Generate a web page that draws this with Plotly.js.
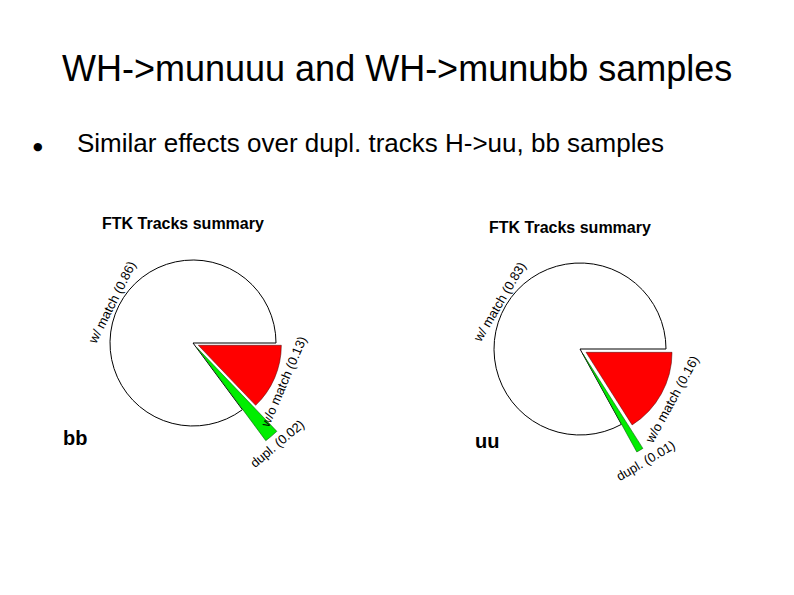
<!DOCTYPE html>
<html><head><meta charset="utf-8">
<script src="https://cdn.plot.ly/plotly-3.0.1.min.js"></script>
<style>html,body{margin:0;padding:0;background:#fff}</style>
</head><body>
<div id="chart" style="width:794px;height:595px"></div>
<script>
// ---- data (slice order: clockwise from 3 o'clock) ----
var sliceLabels = ["w/o match", "dupl.", "w/ match"];
var sliceColors = ["#ff0000", "#00ee00", "#ffffff"];
var bbValues = [0.13, 0.02, 0.86];
var uuValues = [0.16, 0.01, 0.83];
var sampleNames = ["bb", "uu"];
var slideTitle = "WH->munuuu and WH->munubb samples";
var bulletText = "Similar effects over dupl. tracks H->uu, bb samples";
var pieTitle = "FTK Tracks summary";

// ---- geometry (pixels) ----
var W = 794, H = 595;
var FONT = "Liberation Sans, Arial, Helvetica, sans-serif";
var pies = [
  {vals: bbValues, name: sampleNames[0], cx: 193, cy: 343, r: 83, rg: 116, pull: 0.07, gpull: 0.05,
   titleX: 183, titleY: 223, nameX: 75, nameY: 438, lr: [99, 131, 91]},
  {vals: uuValues, name: sampleNames[1], cx: 580, cy: 349, r: 86, rg: 112, pull: 0.08, gpull: 0.05,
   titleX: 570, titleY: 227, nameX: 487, nameY: 441, lr: [105, 130, 93]}
];

function domainFor(cx, cy, r, pull) {
  var half = r * (1 + pull);
  return {x: [(cx - half) / W, (cx + half) / W], y: [1 - (cy + half) / H, 1 - (cy - half) / H]};
}
function ann(px, py, text, font, extra) {
  var a = {xref: "paper", yref: "paper", x: px / W, y: 1 - py / H, xanchor: "center", yanchor: "middle",
           showarrow: false, text: text, font: font};
  for (var k in (extra || {})) a[k] = extra[k];
  return a;
}

var traces = [], annotations = [];
pies.forEach(function (p) {
  // main pie: red + white (green hidden here)
  traces.push({
    type: "pie", values: p.vals, labels: sliceLabels, sort: false,
    direction: "clockwise", rotation: 90, textinfo: "none", hoverinfo: "none",
    pull: [p.pull, 0, 0],
    marker: {colors: [sliceColors[0], "rgba(0,0,0,0)", sliceColors[2]],
             line: {color: ["#400", "rgba(0,0,0,0)", "#000"], width: [0.5, 0, 1]}},
    domain: domainFor(p.cx, p.cy, p.r, p.pull), showlegend: false
  });
  // green slice drawn with a longer radius
  traces.push({
    type: "pie", values: p.vals, labels: sliceLabels, sort: false,
    direction: "clockwise", rotation: 90, textinfo: "none", hoverinfo: "none",
    pull: [0, p.gpull, 0],
    marker: {colors: ["rgba(0,0,0,0)", sliceColors[1], "rgba(0,0,0,0)"],
             line: {color: ["rgba(0,0,0,0)", "#0a5a0a", "rgba(0,0,0,0)"], width: [0, 0.6, 0]}},
    domain: domainFor(p.cx, p.cy, p.rg, p.gpull), showlegend: false
  });
  // slice labels, placed from the slice mid-angles
  var tot = p.vals.reduce(function (a, b) { return a + b; }, 0);
  var start = 0;
  p.vals.forEach(function (v, i) {
    var m = -(start + 180 * v / tot);  // math degrees (ccw from east), slices run clockwise
    start += 360 * v / tot;
    if (m < -180) m += 360;
    var rad = m * Math.PI / 180;
    var px = p.cx + p.lr[i] * Math.cos(rad), py = p.cy - p.lr[i] * Math.sin(rad);
    var dir = (m > 90 || m < -90) ? m - 90 : m + 90; // text direction, reading upward
    annotations.push(ann(px, py, sliceLabels[i] + " (" + v.toFixed(2) + ")",
      {family: FONT, size: 13, color: "#000"}, {textangle: -dir}));
  });
  annotations.push(ann(p.titleX, p.titleY, "<b>" + pieTitle + "</b>", {family: FONT, size: 16, color: "#000"}));
  annotations.push(ann(p.nameX, p.nameY, "<b>" + p.name + "</b>", {family: FONT, size: 20, color: "#000"}));
});

annotations.push(ann(397, 68, slideTitle, {family: FONT, size: 36, color: "#000"}));
annotations.push(ann(38, 146, "\u25CF", {family: "DejaVu Sans, sans-serif", size: 11, color: "#000"}));
annotations.push(ann(75, 143, bulletText, {family: FONT, size: 26, color: "#000"}, {xanchor: "left"}));

Plotly.newPlot("chart", traces, {
  width: W, height: H, margin: {l: 0, r: 0, t: 0, b: 0},
  paper_bgcolor: "#fff", plot_bgcolor: "#fff", showlegend: false,
  annotations: annotations
}, {staticPlot: true});
</script>
</body></html>
